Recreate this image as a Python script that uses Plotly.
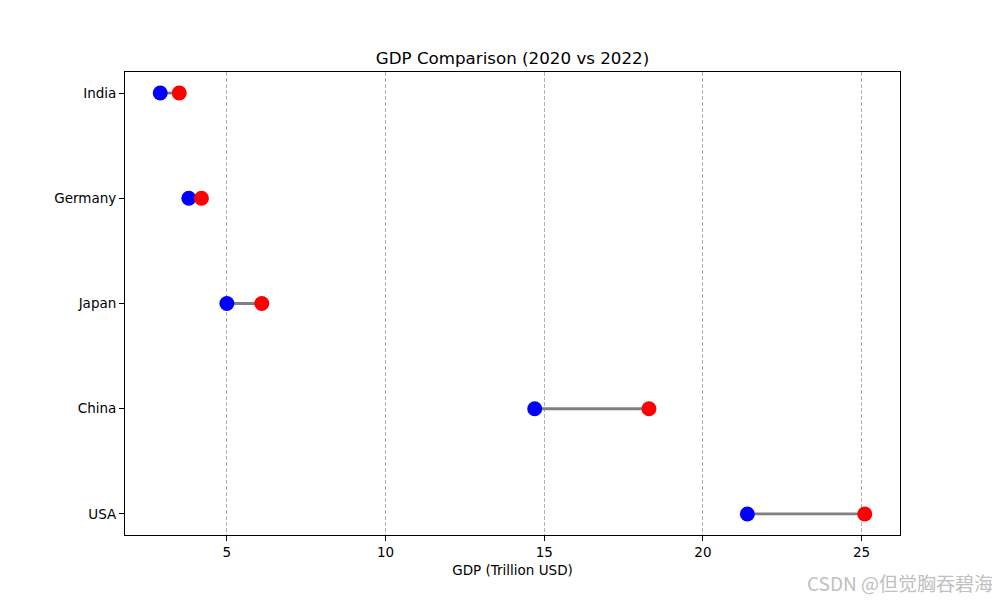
import plotly.graph_objects as go

countries = ["USA", "China", "Japan", "Germany", "India"]
gdp_2020 = [21.4, 14.7, 5.0, 3.8, 2.9]
gdp_2022 = [25.1, 18.3, 6.1, 4.2, 3.5]
x_ticks = [5, 10, 15, 20, 25]

fig = go.Figure()

lx, ly = [], []
for c, a, b in zip(countries, gdp_2020, gdp_2022):
    lx += [a, b, None]
    ly += [c, c, None]
fig.add_trace(go.Scatter(x=lx, y=ly, mode="lines", line=dict(color="gray", width=2.8),
                         showlegend=False, hoverinfo="skip"))
fig.add_trace(go.Scatter(x=gdp_2020, y=countries, mode="markers", name="2020",
                         marker=dict(color="blue", size=15, line=dict(width=0)), showlegend=False))
fig.add_trace(go.Scatter(x=gdp_2022, y=countries, mode="markers", name="2022",
                         marker=dict(color="red", size=15, line=dict(width=0)), showlegend=False))

xmin = min(gdp_2020 + gdp_2022)
xmax = max(gdp_2020 + gdp_2022)
pad = (xmax - xmin) * 0.05

# page has an 8px body offset
L, R, T, B = 117, 892, 64, 527
W, H = 1000, 600

font = "DejaVu Sans"
fig.update_layout(
    width=W, height=H,
    paper_bgcolor="white", plot_bgcolor="white",
    margin=dict(l=L, r=W - R, t=T, b=H - B),
    font=dict(family=font, size=14, color="black"),
    title=dict(text="GDP Comparison (2020 vs 2022)", x=(L + R) / 2 / W, xanchor="center",
               y=1 - 50 / H, yanchor="middle", font=dict(size=16.7, family=font, color="black")),
    xaxis=dict(range=[xmin - pad, xmax + pad], tickvals=x_ticks, ticks="outside", ticklen=5,
               tickcolor="black", showline=True, linecolor="black", linewidth=1, mirror=True,
               showgrid=True, gridcolor="#b0b0b0", griddash="4px,2px", gridwidth=1, zeroline=False,
               title=dict(text="GDP (Trillion USD)", font=dict(size=13.5), standoff=6),
               tickfont=dict(size=13.5)),
    yaxis=dict(type="category", categoryorder="array", categoryarray=countries,
               range=[-0.2, 4.2], ticks="outside", ticklen=5, tickcolor="black",
               showline=True, linecolor="black", linewidth=1, mirror=True,
               showgrid=False, zeroline=False, tickfont=dict(size=13.5)),
    annotations=[dict(text="CSDN @但觉胸吞碧海", xref="paper", yref="paper",
                      x=(987 - L) / (R - L), y=(B - 574) / (B - T),
                      showarrow=False, xanchor="right", yanchor="middle",
                      font=dict(size=19, color="#c0c0c0", family="Noto Sans CJK SC"))],
)

fig.write_html("out.html")
